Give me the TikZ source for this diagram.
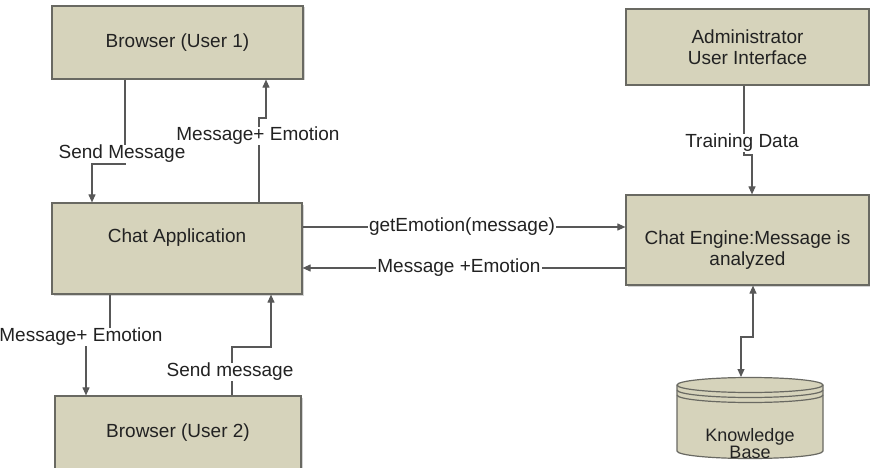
\documentclass[tikz,border=0pt]{standalone}
\usepackage{fontspec}
\setmainfont{Liberation Sans}
\usetikzlibrary{arrows.meta,shadows}
\definecolor{boxfill}{RGB}{214,211,187}
\definecolor{boxline}{RGB}{105,105,98}
\definecolor{wire}{RGB}{88,88,88}
\definecolor{ink}{RGB}{34,34,34}

\begin{document}
\begin{tikzpicture}[x=1pt,y=-1pt,
    block/.style={draw=boxline, line width=1.2pt, fill=boxfill,
      drop shadow={shadow xshift=1.5pt, shadow yshift=-1.5pt, opacity=0.35},
      text=ink, font=\fontsize{19}{21}\selectfont, align=center, inner sep=2pt},
    lbl/.style={fill=white, text=ink, font=\fontsize{19}{21}\selectfont, inner xsep=1pt, inner ysep=0pt},
    link/.style={draw=wire, line width=1.1pt, -{Triangle[length=8pt,width=7pt]}},
    both/.style={link, {Triangle[length=8pt,width=7pt]}-{Triangle[length=8pt,width=7pt]}}]
    \useasboundingbox (0,0) rectangle (870,468);
    \clip (0,0) rectangle (870,468);

    % Left column
    \node[block, minimum width=251pt, minimum height=73pt] (browserA) at (177.5,42.5) {Browser (User 1)};
    \node[block, minimum width=250pt, minimum height=91pt] (chatapp) at (177,248.5) {Chat Application\rule[-25pt]{0pt}{25pt}};
    \node[block, minimum width=246pt, minimum height=73pt] (browserB) at (178,432.5) {Browser (User 2)};

    % Right column
    \node[block, minimum width=243pt, minimum height=76pt] (admin) at (747.5,47) {Administrator\\User Interface};
    \node[block, minimum width=243pt, minimum height=90pt] (engine) at (747.5,240) {\rule{0pt}{33pt}Chat Engine:Message is\\analyzed};

    % Knowledge Base
    \draw[draw=boxline, line width=1.2pt, fill=boxfill] (677,385) -- (677,451)
      arc[start angle=180, end angle=0, x radius=73, y radius=7.5] -- (823,385)
      arc[start angle=0, end angle=-180, x radius=73, y radius=7.5] -- cycle;
    \foreach \dy in {0,5,10}
      \draw[boxline, line width=1.2pt] (677,385+\dy) arc[start angle=180, end angle=0, x radius=73, y radius=7.5];
    \coordinate (kbase) at (741,377);
    \node[text=ink, font=\fontsize{18}{17.5}\selectfont, align=center] (kbtext) at (750,443.5) {Knowledge\\Base};

    % Browser (User 1) <-> Chat Application
    \draw[link] (browserA.south -| 125,0) |- (92,164) -- (chatapp.north -| 92,0);
    \draw[link] (chatapp.north -| 259,0) |- (266,118) -- (browserA.south -| 266,0);
    \node[lbl] (sendA) at (122,154) {Send Message};
    \node[lbl] (backA) at (258,136) {Message+ Emotion};

    % Chat Application <-> Browser (User 2)
    \draw[link] (chatapp.south -| 110,0) |- (86,337) -- (browserB.north -| 86,0);
    \draw[link] (browserB.north -| 232,0) |- (271,347) -- (chatapp.south -| 271,0);
    \node[lbl] (backB) at (81,337) {Message+ Emotion};
    \node[lbl] (sendB) at (230,372) {Send message};

    % Chat Application <-> Chat Engine
    \draw[link] (chatapp.east |- 0,227) -- (engine.west |- 0,227);
    \draw[link] (engine.west |- 0,268) -- (chatapp.east |- 0,268);
    \node[lbl] (askE) at (462,227) {getEmotion(message)};
    \node[lbl] (retE) at (459,268) {Message +Emotion};

    % Training and knowledge base
    \draw[link] (admin.south -| 744,0) |- (752,155) -- (engine.north -| 752,0);
    \node[lbl] (train) at (742,143) {Training Data};
    \draw[both] (engine.south -| 753,0) |- (kbase |- 0,337) -- (kbase);
\end{tikzpicture}
\end{document}
